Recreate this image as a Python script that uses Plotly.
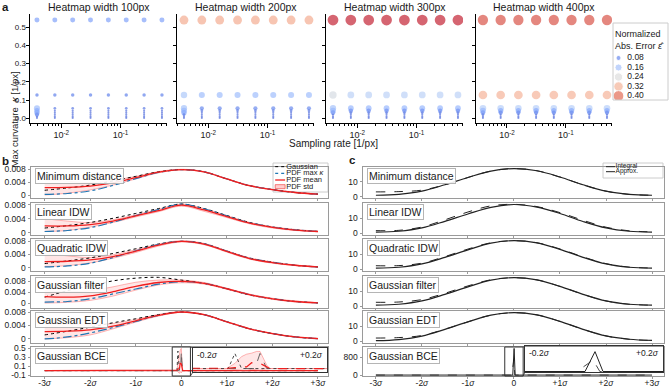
import plotly.graph_objects as go
import numpy as np

W, H = 669, 388
FONT = "Liberation Sans, Arial, sans-serif"

# ---------------- Panel a data ----------------
sampling_rates = [0.00390625, 0.0078125, 0.015625, 0.03125, 0.0625, 0.125, 0.25, 0.5]
max_curvature = [0.54, 0.128, 0.055, 0.042, 0.031, 0.020, 0.010, 0.002]
heatmap_titles = ["Heatmap width 100px", "Heatmap width 200px",
                  "Heatmap width 300px", "Heatmap width 400px"]
err_100 = [
    [0.11, 0.11, 0.11, 0.11, 0.11, 0.11, 0.11, 0.11],
    [0.07, 0.07, 0.07, 0.07, 0.07, 0.07, 0.07, 0.07],
    [0.15, 0.06, 0.06, 0.06, 0.06, 0.06, 0.06, 0.06],
    [0.12, 0.05, 0.05, 0.05, 0.05, 0.05, 0.05, 0.05],
    [0.12, 0.05, 0.05, 0.05, 0.05, 0.05, 0.05, 0.05],
    [0.08, 0.05, 0.05, 0.05, 0.05, 0.05, 0.05, 0.05],
    [0.05, 0.05, 0.05, 0.05, 0.05, 0.05, 0.05, 0.05],
    [0.05, 0.05, 0.05, 0.05, 0.05, 0.05, 0.05, 0.05],
]
err_200 = [
    [0.33, 0.33, 0.33, 0.33, 0.33, 0.33, 0.33, 0.33],
    [0.17, 0.15, 0.15, 0.15, 0.15, 0.15, 0.15, 0.15],
    [0.16, 0.08, 0.08, 0.08, 0.08, 0.08, 0.08, 0.08],
    [0.14, 0.06, 0.06, 0.06, 0.06, 0.06, 0.06, 0.06],
    [0.12, 0.05, 0.05, 0.05, 0.05, 0.05, 0.05, 0.05],
    [0.06, 0.05, 0.05, 0.05, 0.05, 0.05, 0.05, 0.05],
    [0.05, 0.05, 0.05, 0.05, 0.05, 0.05, 0.05, 0.05],
    [0.05, 0.05, 0.05, 0.05, 0.05, 0.05, 0.05, 0.05],
]
err_300 = [
    [0.45, 0.45, 0.45, 0.45, 0.45, 0.45, 0.45, 0.45],
    [0.23, 0.19, 0.19, 0.19, 0.19, 0.19, 0.19, 0.19],
    [0.16, 0.14, 0.14, 0.14, 0.14, 0.14, 0.14, 0.14],
    [0.14, 0.09, 0.09, 0.09, 0.09, 0.09, 0.09, 0.09],
    [0.10, 0.06, 0.06, 0.06, 0.06, 0.06, 0.06, 0.06],
    [0.05, 0.05, 0.05, 0.05, 0.05, 0.05, 0.05, 0.05],
    [0.05, 0.05, 0.05, 0.05, 0.05, 0.05, 0.05, 0.05],
    [0.05, 0.05, 0.05, 0.05, 0.05, 0.05, 0.05, 0.05],
]
err_400 = [
    [0.42, 0.42, 0.42, 0.42, 0.42, 0.42, 0.42, 0.42],
    [0.32, 0.32, 0.32, 0.32, 0.32, 0.32, 0.32, 0.32],
    [0.18, 0.18, 0.18, 0.18, 0.18, 0.18, 0.18, 0.18],
    [0.14, 0.12, 0.12, 0.12, 0.12, 0.12, 0.12, 0.12],
    [0.10, 0.08, 0.08, 0.08, 0.08, 0.08, 0.08, 0.08],
    [0.06, 0.05, 0.05, 0.05, 0.05, 0.05, 0.05, 0.05],
    [0.05, 0.05, 0.05, 0.05, 0.05, 0.05, 0.05, 0.05],
    [0.05, 0.05, 0.05, 0.05, 0.05, 0.05, 0.05, 0.05],
]
a_errors = [err_100, err_200, err_300, err_400]
legend_errors = [0.08, 0.16, 0.24, 0.32, 0.40]
legend_error_labels = ["0.08", "0.16", "0.24", "0.32", "0.40"]
a_yticks = [0.0, 0.1, 0.2, 0.3, 0.4, 0.5]
a_yticklabels = ["0.0", "0.1", "0.2", "0.3", "0.4", "0.5"]
a_xticks = [0.01, 0.1]
a_xticklabels = ["10<sup>-2</sup>", "10<sup>-1</sup>"]
a_minor_ticks = [0.003, 0.004, 0.005, 0.006, 0.007, 0.008, 0.009,
                 0.02, 0.03, 0.04, 0.05, 0.06, 0.07, 0.08, 0.09,
                 0.2, 0.3, 0.4, 0.5, 0.6]

# ---------------- Panel b data (PDF values in units of 1e-3) ----------------
b_x = [-3.0, -2.5, -2.0, -1.5, -1.0, -0.5, 0.0, 0.5, 1.0, 1.5, 2.0, 2.5, 3.0]
row_names = ["Minimum distance", "Linear IDW", "Quadratic IDW",
             "Gaussian filter", "Gaussian EDT", "Gaussian BCE"]
b_gauss = [
    [1.5, 2.2, 3.1, 4.4, 5.8, 7.2, 7.9, 7.2, 5.0, 2.9, 1.7, 0.8, 0.3],
    [1.3, 2.0, 2.9, 4.1, 5.5, 6.9, 8.2, 6.9, 4.9, 2.9, 1.6, 0.8, 0.3],
    [1.3, 2.1, 3.0, 4.3, 5.7, 7.1, 7.9, 7.2, 5.0, 2.9, 1.7, 0.8, 0.3],
    [2.2, 4.6, 6.4, 8.2, 9.2, 9.5, 8.5, 7.3, 5.3, 3.0, 1.6, 0.6, 0.1],
    [1.2, 2.3, 3.5, 4.8, 6.0, 7.2, 8.0, 7.2, 5.1, 3.0, 1.6, 0.6, 0.1],
]
b_maxk = [
    [0.2, 0.5, 1.3, 3.0, 5.1, 7.0, 7.9, 7.2, 5.0, 2.9, 1.7, 0.8, 0.3],
    [0.3, 0.6, 1.4, 3.0, 4.9, 6.6, 8.2, 6.8, 4.8, 2.8, 1.6, 0.8, 0.3],
    [0.3, 0.6, 1.4, 3.1, 5.1, 7.0, 7.9, 7.2, 5.0, 2.9, 1.7, 0.8, 0.3],
    [0.4, 0.6, 1.6, 3.4, 5.2, 7.0, 7.9, 7.3, 5.3, 3.1, 1.6, 0.6, 0.1],
    [0.0, 0.6, 1.8, 3.4, 5.2, 7.0, 8.0, 7.2, 5.1, 3.0, 1.6, 0.6, 0.1],
]
b_mean = [
    [2.3, 2.4, 2.8, 3.8, 5.4, 7.1, 7.9, 7.2, 5.0, 2.9, 1.7, 0.8, 0.3],
    [1.9, 1.9, 2.3, 3.3, 4.8, 6.3, 7.9, 6.5, 4.6, 2.7, 1.5, 0.7, 0.3],
    [1.9, 2.0, 2.4, 3.4, 5.0, 6.8, 7.9, 7.1, 4.9, 2.8, 1.6, 0.8, 0.3],
    [2.4, 2.2, 2.7, 4.2, 6.2, 7.6, 8.0, 7.3, 5.3, 3.1, 1.6, 0.6, 0.1],
    [2.2, 2.3, 2.7, 3.8, 5.4, 7.0, 8.0, 7.2, 5.1, 3.0, 1.6, 0.6, 0.1],
]
b_std_hi = [
    [4.8, 4.3, 3.9, 4.6, 5.8, 7.3, 8.0, 7.3, 5.1, 3.0, 1.8, 0.9, 0.4],
    [4.0, 3.3, 2.9, 3.7, 5.1, 6.7, 8.2, 6.9, 4.9, 2.9, 1.7, 0.9, 0.4],
    [4.3, 3.6, 3.1, 3.9, 5.4, 7.1, 8.1, 7.3, 5.1, 3.0, 1.8, 0.9, 0.4],
    [4.6, 4.2, 4.6, 6.0, 7.7, 8.5, 8.5, 7.6, 5.5, 3.3, 1.8, 0.8, 0.2],
    [4.8, 4.4, 4.2, 4.6, 5.8, 7.3, 8.1, 7.3, 5.2, 3.1, 1.7, 0.7, 0.2],
]
b_std_lo = [
    [0.0, 0.6, 1.6, 3.1, 5.0, 6.9, 7.8, 7.1, 4.9, 2.8, 1.6, 0.7, 0.2],
    [0.3, 0.6, 1.6, 2.9, 4.5, 6.0, 7.6, 6.1, 4.3, 2.5, 1.3, 0.6, 0.2],
    [0.4, 0.7, 1.5, 2.9, 4.6, 6.5, 7.7, 6.9, 4.7, 2.6, 1.4, 0.7, 0.2],
    [0.0, 0.3, 1.0, 2.6, 4.8, 6.7, 7.5, 7.0, 5.1, 2.9, 1.4, 0.4, 0.0],
    [0.0, 0.4, 1.2, 3.0, 5.0, 6.8, 7.9, 7.1, 5.0, 2.9, 1.5, 0.5, 0.0],
]
b_yranges = [[-0.9, 8.7], [-0.7, 8.5], [-0.9, 8.6], [-1.8, 10.0], [-1.2, 8.3]]
b_yticks = [0, 4, 8]
b_yticklabels = ["0", "0.004", "0.008"]

# Gaussian BCE row (panel b)
bce_x = [-3.0, -0.2, -0.1, -0.095, -0.075, -0.055, -0.04, -0.025, -0.015, -0.01,
         0.0, 0.01, 0.02, 0.03, 0.2, 3.0]
bce_gauss = [0, 0, 0, 0, 0.44, 0, 0, 0, 0, 0, 0, 0, 0, 0, 0, 0]
bce_maxk = [0, 0, 0, 0, 0, 0, 0, 0, 0, 0.15, 0.44, 0.22, 0, 0, 0, 0]
bce_mean = [0, 0, 0, 0.01, 0.03, 0.04, 0.05, 0.17, 0.16, 0.16, 0.15, 0.10, 0.05, 0, 0, 0]
bce_hi = [0, 0, 0, 0.03, 0.15, 0.35, 0.42, 0.45, 0.48, 0.50, 0.50, 0.30, 0.10, 0, 0, 0]
bce_lo = [0, 0, 0, -0.01, -0.03, -0.05, -0.06, -0.02, -0.04, -0.05, -0.05, -0.02, 0, 0, 0, 0]
bce_yticks = [-0.1, 0.1, 0.3, 0.5]
bce_yticklabels = ["-0.1", "0.1", "0.3", "0.5"]

# ---------------- Panel c data ----------------
c_integral = [
    [0.9, 1.5, 3.7, 8.1, 13.1, 17.5, 19.2, 17.7, 13.4, 8.1, 3.7, 1.5, 0.9],
    [0.9, 1.5, 3.7, 8.1, 13.0, 17.4, 19.3, 17.6, 13.3, 8.0, 3.7, 1.5, 0.9],
    [0.9, 1.5, 3.7, 8.1, 13.1, 17.5, 19.2, 17.7, 13.4, 8.1, 3.7, 1.5, 0.9],
    [0.9, 1.5, 3.7, 8.1, 13.1, 17.5, 19.2, 17.7, 13.4, 8.1, 3.7, 1.5, 0.9],
    [0.6, 1.3, 3.6, 8.1, 13.1, 17.5, 19.2, 17.7, 13.4, 8.1, 3.7, 1.5, 0.7],
]
c_approx = [
    [3.2, 3.4, 4.4, 8.1, 13.1, 17.5, 19.2, 17.7, 13.4, 8.1, 3.7, 1.5, 0.9],
    [1.9, 2.1, 4.3, 9.1, 14.3, 18.4, 19.4, 17.9, 13.9, 8.8, 4.2, 1.8, 1.1],
    [2.5, 2.6, 4.2, 8.6, 13.6, 17.8, 19.2, 17.8, 13.7, 8.4, 3.9, 1.6, 1.0],
    [2.8, 3.0, 4.6, 8.8, 13.7, 17.8, 19.2, 17.7, 13.4, 8.1, 3.7, 1.5, 0.9],
    [2.3, 2.6, 4.0, 8.2, 13.1, 17.5, 19.2, 17.7, 13.4, 8.1, 3.7, 1.5, 0.7],
]
c_yrange = [-1.0, 20.3]
c_yticks = [0, 10]
bcec_int_x = [-3.0, -0.026, 0.003, 0.026, 3.0]
bcec_int = [0, 0, 1200, 0, 0]
bcec_app_x = [-3.0, -0.05, -0.017, -0.003, 0.017, 3.0]
bcec_app = [0, 0, 480, 700, 0, 0]
bcec_yticks = [0, 800]

sigma_ticks = [-3, -2, -1, 0, 1, 2, 3]
sigma_ticklabels = ["-3<i>σ</i>", "-2<i>σ</i>", "-1<i>σ</i>", "0",
                    "+1<i>σ</i>", "+2<i>σ</i>", "+3<i>σ</i>"]
b_legend_labels = ["Gaussian", "PDF max <i>κ</i>", "PDF mean", "PDF std"]
c_legend_labels = ["Integral", "Approx."]

# ---------------- helpers ----------------
CW = [(0.0, (59, 76, 192)), (0.125, (98, 130, 234)), (0.25, (141, 176, 254)),
      (0.375, (184, 208, 249)), (0.5, (221, 221, 221)), (0.625, (245, 196, 173)),
      (0.75, (244, 154, 123)), (0.875, (222, 96, 77)), (1.0, (180, 4, 38))]


def coolwarm(e, vmin=0.011, vmax=0.47):
    t = min(max((e - vmin) / (vmax - vmin), 0.0), 1.0)
    for i in range(len(CW) - 1):
        t0, c0 = CW[i]
        t1, c1 = CW[i + 1]
        if t <= t1:
            f = (t - t0) / (t1 - t0)
            c = [round(c0[j] + (c1[j] - c0[j]) * f) for j in range(3)]
            return f"rgb({c[0]},{c[1]},{c[2]})"
    return "rgb(180,4,38)"


def dot_size(e):
    return float(np.interp(e, [0, 0.05, 0.06, 0.08, 0.16, 0.24, 0.32, 0.40, 0.48],
                           [1.6, 2.1, 2.7, 4.2, 6.3, 7.5, 8.7, 10, 11.2]))


def xd(a, b):
    return [a / W, b / W]


def yd(top, bottom):
    return [1 - bottom / H, 1 - top / H]


fig = go.Figure()
layout = {}
annotations = []
shapes = []

# ---------------- Panel a ----------------
a_x_px = [(30, 167), (177, 314), (326, 463), (476, 612)]
a_y_px = (14, 123)
for k in range(4):
    n = k + 1
    xs, ys, cs, ss = [], [], [], []
    for r, kap in enumerate(max_curvature):
        for c, sr in enumerate(sampling_rates):
            e = a_errors[k][r][c]
            xs.append(sr)
            ys.append(kap)
            cs.append(coolwarm(e))
            ss.append(dot_size(e))
    fig.add_trace(go.Scatter(x=xs, y=ys, mode="markers", xaxis=f"x{n}", yaxis=f"y{n}",
                             marker=dict(color=cs, size=ss, line=dict(width=0)),
                             showlegend=False, hoverinfo="skip"))
    layout[f"xaxis{n}"] = dict(domain=xd(*a_x_px[k]), anchor=f"y{n}", type="log",
                               range=[-2.526, -0.216], tickmode="array",
                               tickvals=a_xticks, ticktext=a_xticklabels,
                               ticks="outside", ticklen=3.5, tickwidth=1, tickcolor="black",
                               showline=True, linecolor="black", linewidth=1,
                               showgrid=False, zeroline=False,
                               minor=dict(tickmode="array", tickvals=a_minor_ticks,
                                          ticks="outside", ticklen=2, tickcolor="black",
                                          tickwidth=0.8, showgrid=False),
                               tickfont=dict(size=9))
    layout[f"yaxis{n}"] = dict(domain=yd(*a_y_px), anchor=f"x{n}", range=[-0.026, 0.573],
                               tickmode="array", tickvals=a_yticks, ticktext=a_yticklabels,
                               showticklabels=(k == 0), ticks="outside", ticklen=3.5,
                               tickcolor="black", showline=True, linecolor="black",
                               linewidth=1, showgrid=False, zeroline=False,
                               ticklabelstandoff=-2, tickfont=dict(size=8))
    annotations.append(dict(text=heatmap_titles[k], x=sum(a_x_px[k]) / 2 / W,
                            y=1 - 7 / H, xref="paper", yref="paper", showarrow=False,
                            font=dict(size=10.5), xanchor="center", yanchor="middle"))

annotations.append(dict(text="Sampling rate [1/px]", x=333 / W, y=1 - 143 / H, xref="paper",
                        yref="paper", showarrow=False, font=dict(size=10)))
annotations.append(dict(text="Max curvature  <i>κ</i> [1/px]", x=6 / W, y=1 - 70 / H,
                        xref="paper", yref="paper", showarrow=False, textangle=-90,
                        font=dict(size=9.5)))

# legend for panel a (hidden axis 19)
n = 19
fig.add_trace(go.Scatter(x=[0.1] * len(legend_errors), y=list(range(len(legend_errors))),
                         mode="markers", xaxis=f"x{n}", yaxis=f"y{n}", showlegend=False,
                         marker=dict(color=[coolwarm(e) for e in legend_errors],
                                     size=[dot_size(e) + 0.8 for e in legend_errors]),
                         hoverinfo="skip"))
fig.add_trace(go.Scatter(x=[0.26] * len(legend_errors), y=list(range(len(legend_errors))),
                         mode="text", text=legend_error_labels, textposition="middle right",
                         textfont=dict(size=8.5), xaxis=f"x{n}", yaxis=f"y{n}",
                         showlegend=False, hoverinfo="skip"))
layout[f"xaxis{n}"] = dict(domain=xd(613, 668), anchor=f"y{n}", range=[0, 1], visible=False)
layout[f"yaxis{n}"] = dict(domain=yd(23, 100), anchor=f"x{n}", range=[4.42, -3.68], visible=False)
shapes.append(dict(type="rect", xref="paper", yref="paper", x0=613 / W, x1=668 / W,
                   y0=1 - 100 / H, y1=1 - 23 / H, line=dict(color="#cccccc", width=1)))
annotations.append(dict(text="Normalized<br>Abs. Error <i>ε̂</i>", x=613 / W, y=1 - 27 / H,
                        xref="paper", yref="paper", showarrow=False, xanchor="left",
                        yanchor="top", align="left", font=dict(size=9)))

# ---------------- Panels b and c rows ----------------
rows_px = [(167, 198), (203, 235), (239, 271), (276, 308), (311, 343), (347, 376)]
b_px = (31, 328)
c_px = (363, 664)
b_xrange = [-3.3, 3.22]
c_xrange = [-3.28, 3.26]
FRAME = "#9a9a9a"
RED = "#f01e1e"
BLUE = "#1f77b4"
BAND_FILL = "rgba(255,60,60,0.13)"
BAND_LINE = "rgba(250,90,90,0.55)"


def frame_axes(n, xdom, ydom, xrange, yrange, yticks, yticklabels, xlabels):
    layout[f"xaxis{n}"] = dict(domain=xdom, anchor=f"y{n}", range=xrange, tickmode="array",
                               tickvals=sigma_ticks, ticktext=sigma_ticklabels,
                               showticklabels=xlabels, ticks="outside", ticklen=2,
                               tickcolor=FRAME, showline=True, mirror=True, linecolor=FRAME,
                               linewidth=1, showgrid=False, zeroline=False,
                               ticklabelstandoff=-3, tickfont=dict(size=8.5))
    layout[f"yaxis{n}"] = dict(domain=ydom, anchor=f"x{n}", range=yrange, tickmode="array",
                               tickvals=yticks, ticktext=yticklabels, ticks="outside",
                               ticklen=2.5, tickcolor=FRAME, showline=True, mirror=True,
                               linecolor=FRAME, linewidth=1, showgrid=False, zeroline=False,
                               tickfont=dict(size=8.5))


def row_label(text, xpx, top):
    annotations.append(dict(text=text, x=xpx / W, y=1 - (top + 1) / H, xref="paper",
                            yref="paper", showarrow=False, xanchor="left", yanchor="top",
                            bgcolor="rgba(255,255,255,0.9)", bordercolor="#b5b5b5",
                            borderwidth=1, borderpad=1, font=dict(size=10.5)))


# panel b rows 1-5
for i in range(5):
    n = 5 + i
    xa, ya = f"x{n}", f"y{n}"
    sc = 1e-3
    fig.add_trace(go.Scatter(x=b_x, y=[v * sc for v in b_std_lo[i]], mode="lines",
                             line=dict(color=BAND_LINE, width=0.8, shape="spline"),
                             xaxis=xa, yaxis=ya, showlegend=False, hoverinfo="skip"))
    fig.add_trace(go.Scatter(x=b_x, y=[v * sc for v in b_std_hi[i]], mode="lines",
                             line=dict(color=BAND_LINE, width=0.8, shape="spline"),
                             fill="tonexty", fillcolor=BAND_FILL,
                             xaxis=xa, yaxis=ya, showlegend=False, hoverinfo="skip"))
    fig.add_trace(go.Scatter(x=b_x, y=[v * sc for v in b_gauss[i]], mode="lines",
                             line=dict(color="black", width=1, dash="dot", shape="spline"),
                             xaxis=xa, yaxis=ya, showlegend=False, hoverinfo="skip"))
    fig.add_trace(go.Scatter(x=b_x, y=[v * sc for v in b_maxk[i]], mode="lines",
                             line=dict(color=BLUE, width=1.2, dash="dashdot", shape="spline"),
                             xaxis=xa, yaxis=ya, showlegend=False, hoverinfo="skip"))
    fig.add_trace(go.Scatter(x=b_x, y=[v * sc for v in b_mean[i]], mode="lines",
                             line=dict(color=RED, width=1.3, shape="spline"),
                             xaxis=xa, yaxis=ya, showlegend=False, hoverinfo="skip"))
    frame_axes(n, xd(*b_px), yd(*rows_px[i]), b_xrange,
               [b_yranges[i][0] * sc, b_yranges[i][1] * sc],
               [t * sc for t in b_yticks], b_yticklabels, False)
    row_label(row_names[i], 35, rows_px[i][0])

# panel b BCE row (axis 10) and inset (axis 11)
for n in (10, 11):
    xa, ya = f"x{n}", f"y{n}"
    fig.add_trace(go.Scatter(x=bce_x, y=bce_lo, mode="lines",
                             line=dict(color=BAND_LINE, width=0.8),
                             xaxis=xa, yaxis=ya, showlegend=False, hoverinfo="skip"))
    fig.add_trace(go.Scatter(x=bce_x, y=bce_hi, mode="lines",
                             line=dict(color=BAND_LINE, width=0.8), fill="tonexty",
                             fillcolor=BAND_FILL, xaxis=xa, yaxis=ya, showlegend=False,
                             hoverinfo="skip"))
    fig.add_trace(go.Scatter(x=bce_x, y=bce_gauss, mode="lines",
                             line=dict(color="#333333", width=0.9, dash="dot"),
                             xaxis=xa, yaxis=ya, showlegend=False, hoverinfo="skip"))
    fig.add_trace(go.Scatter(x=bce_x, y=bce_maxk, mode="lines",
                             line=dict(color="#555555", width=0.9, dash="dash"),
                             xaxis=xa, yaxis=ya, showlegend=False, hoverinfo="skip"))
    fig.add_trace(go.Scatter(x=bce_x, y=bce_mean, mode="lines",
                             line=dict(color=RED, width=1.2, dash="dash" if n == 11 else "solid"),
                             xaxis=xa, yaxis=ya, showlegend=False, hoverinfo="skip"))

frame_axes(10, xd(*b_px), yd(*rows_px[5]), b_xrange, [-0.12, 0.53], bce_yticks,
           bce_yticklabels, True)
row_label(row_names[5], 35, rows_px[5][0])
b_inset_px = (193, 327, 348, 372)
layout["xaxis11"] = dict(domain=xd(b_inset_px[0], b_inset_px[1]), anchor="y11",
                         range=[-0.2, 0.2], showticklabels=False, ticks="", showline=True,
                         mirror=True, linecolor="#333333", linewidth=1, showgrid=False,
                         zeroline=False)
layout["yaxis11"] = dict(domain=yd(b_inset_px[2], b_inset_px[3]), anchor="x11",
                         range=[-0.1, 0.6], showticklabels=False, ticks="", showline=True,
                         mirror=True, linecolor="#333333", linewidth=1, showgrid=False,
                         zeroline=False)

# panel c rows 1-5
for i in range(5):
    n = 12 + i
    xa, ya = f"x{n}", f"y{n}"
    fig.add_trace(go.Scatter(x=b_x, y=c_approx[i], mode="lines",
                             line=dict(color="#222222", width=1, dash="dash", shape="spline"),
                             xaxis=xa, yaxis=ya, showlegend=False, hoverinfo="skip"))
    fig.add_trace(go.Scatter(x=b_x, y=c_integral[i], mode="lines",
                             line=dict(color="#222222", width=1.2, shape="spline"),
                             xaxis=xa, yaxis=ya, showlegend=False, hoverinfo="skip"))
    frame_axes(n, xd(*c_px), yd(*rows_px[i]), c_xrange, c_yrange, c_yticks,
               [str(t) for t in c_yticks], False)
    row_label(row_names[i], 367, rows_px[i][0])

for n in (17, 18):
    xa, ya = f"x{n}", f"y{n}"
    fig.add_trace(go.Scatter(x=bcec_app_x, y=bcec_app, mode="lines",
                             line=dict(color="#333333", width=0.9, dash="dash"),
                             xaxis=xa, yaxis=ya, showlegend=False, hoverinfo="skip"))
    fig.add_trace(go.Scatter(x=bcec_int_x, y=bcec_int, mode="lines",
                             line=dict(color="#222222", width=1),
                             xaxis=xa, yaxis=ya, showlegend=False, hoverinfo="skip"))
frame_axes(17, xd(*c_px), yd(*rows_px[5]), c_xrange, [-42, 1263], bcec_yticks,
           [str(t) for t in bcec_yticks], True)
row_label(row_names[5], 367, rows_px[5][0])
c_inset_px = (525, 663, 346, 372)
layout["xaxis18"] = dict(domain=xd(c_inset_px[0], c_inset_px[1]), anchor="y18",
                         range=[-0.2, 0.2], showticklabels=False, ticks="", showline=True,
                         mirror=True, linecolor="#333333", linewidth=1, showgrid=False,
                         zeroline=False)
layout["yaxis18"] = dict(domain=yd(c_inset_px[2], c_inset_px[3]), anchor="x18",
                         range=[-30, 1540], showticklabels=False, ticks="", showline=True,
                         mirror=True, linecolor="#333333", linewidth=1, showgrid=False,
                         zeroline=False)


# zoom indicator rectangles + connectors
def data2px(xv, px0, px1, rng):
    return px0 + (xv - rng[0]) / (rng[1] - rng[0]) * (px1 - px0)


for (mainn, colpx, xr, inset) in ((10, b_px, b_xrange, b_inset_px),
                                  (17, c_px, c_xrange, c_inset_px)):
    shapes.append(dict(type="rect", xref=f"x{mainn}", yref=f"y{mainn} domain",
                       x0=-0.2, x1=0.2, y0=0, y1=1, line=dict(color="#333333", width=1)))
    rx = data2px(0.2, colpx[0], colpx[1], xr)
    shapes.append(dict(type="line", xref="paper", yref="paper", x0=rx / W, x1=inset[0] / W,
                       y0=1 - rows_px[5][0] / H, y1=1 - inset[2] / H,
                       line=dict(color="#333333", width=0.8)))
    shapes.append(dict(type="line", xref="paper", yref="paper", x0=rx / W, x1=inset[0] / W,
                       y0=1 - rows_px[5][1] / H, y1=1 - inset[3] / H,
                       line=dict(color="#333333", width=0.8)))
    annotations.append(dict(text="-0.2<i>σ</i>", x=(inset[0] + 2) / W,
                            y=1 - (inset[2] + 7) / H, xref="paper", yref="paper",
                            showarrow=False, xanchor="left", yanchor="middle",
                            font=dict(size=8.5)))
    annotations.append(dict(text="+0.2<i>σ</i>", x=(inset[1] - 2) / W,
                            y=1 - (inset[2] + 7) / H, xref="paper", yref="paper",
                            showarrow=False, xanchor="right", yanchor="middle",
                            font=dict(size=8.5)))

# legend for panel b (hidden axis 20)
n = 20
lx = [0.04, 0.22]
fig.add_trace(go.Scatter(x=lx, y=[0, 0], mode="lines", line=dict(color="black", width=1, dash="dot"),
                         xaxis=f"x{n}", yaxis=f"y{n}", showlegend=False, hoverinfo="skip"))
fig.add_trace(go.Scatter(x=lx, y=[1, 1], mode="lines", line=dict(color=BLUE, width=1.2, dash="dot"),
                         xaxis=f"x{n}", yaxis=f"y{n}", showlegend=False, hoverinfo="skip"))
fig.add_trace(go.Scatter(x=lx, y=[2, 2], mode="lines", line=dict(color=RED, width=1.3),
                         xaxis=f"x{n}", yaxis=f"y{n}", showlegend=False, hoverinfo="skip"))
fig.add_trace(go.Scatter(x=[0.04, 0.22, 0.22, 0.04, 0.04], y=[2.7, 2.7, 3.3, 3.3, 2.7],
                         mode="lines", fill="toself", fillcolor="rgba(255,60,60,0.25)",
                         line=dict(color="rgba(240,60,60,0.8)", width=0.8),
                         xaxis=f"x{n}", yaxis=f"y{n}", showlegend=False, hoverinfo="skip"))
fig.add_trace(go.Scatter(x=[0.24] * 4, y=[0, 1, 2, 3], mode="text", text=b_legend_labels,
                         textposition="middle right", textfont=dict(size=7.5),
                         xaxis=f"x{n}", yaxis=f"y{n}", showlegend=False, hoverinfo="skip"))
layout[f"xaxis{n}"] = dict(domain=xd(273, 328), anchor=f"y{n}", range=[0, 1], visible=False)
layout[f"yaxis{n}"] = dict(domain=yd(163, 192), anchor=f"x{n}", range=[3.8, -0.55], visible=False)
shapes.append(dict(type="rect", xref="paper", yref="paper", x0=273 / W, x1=328 / W,
                   y0=1 - 192 / H, y1=1 - 163 / H, line=dict(color="#cccccc", width=1),
                   fillcolor="rgba(255,255,255,0.8)", layer="below"))

# legend for panel c (hidden axis 21)
n = 21
fig.add_trace(go.Scatter(x=[0.05, 0.2], y=[0, 0], mode="lines", line=dict(color="#222222", width=1),
                         xaxis=f"x{n}", yaxis=f"y{n}", showlegend=False, hoverinfo="skip"))
fig.add_trace(go.Scatter(x=[0.05, 0.2], y=[1, 1], mode="lines",
                         line=dict(color="#222222", width=1, dash="dash"),
                         xaxis=f"x{n}", yaxis=f"y{n}", showlegend=False, hoverinfo="skip"))
fig.add_trace(go.Scatter(x=[0.21] * 2, y=[0, 1], mode="text", text=c_legend_labels,
                         textposition="middle right", textfont=dict(size=6.5),
                         xaxis=f"x{n}", yaxis=f"y{n}", showlegend=False, hoverinfo="skip"))
layout[f"xaxis{n}"] = dict(domain=xd(603, 663), anchor=f"y{n}", range=[0, 1], visible=False)
layout[f"yaxis{n}"] = dict(domain=yd(163, 178), anchor=f"x{n}", range=[2.26, -0.74], visible=False)
shapes.append(dict(type="rect", xref="paper", yref="paper", x0=603 / W, x1=663 / W,
                   y0=1 - 178 / H, y1=1 - 163 / H, line=dict(color="#cccccc", width=1),
                   fillcolor="rgba(255,255,255,0.8)", layer="below"))

# panel letters
for letter, xp, yp in (("a", 0, 7), ("b", 0, 161), ("c", 347, 160)):
    annotations.append(dict(text=f"<b>{letter}</b>", x=xp / W, y=1 - yp / H, xref="paper",
                            yref="paper", showarrow=False, xanchor="left", yanchor="middle",
                            font=dict(size=11.5)))

fig.update_layout(**layout)
fig.update_layout(width=W, height=H, margin=dict(l=0, r=0, t=0, b=0), template="none",
                  paper_bgcolor="white", plot_bgcolor="rgba(0,0,0,0)",
                  font=dict(family=FONT, size=10, color="#1a1a1a"),
                  annotations=annotations, shapes=shapes, showlegend=False)
fig.write_html("out.html", config={"displayModeBar": False},
               post_script="document.body.style.margin='0px';document.body.style.padding='0px';")
